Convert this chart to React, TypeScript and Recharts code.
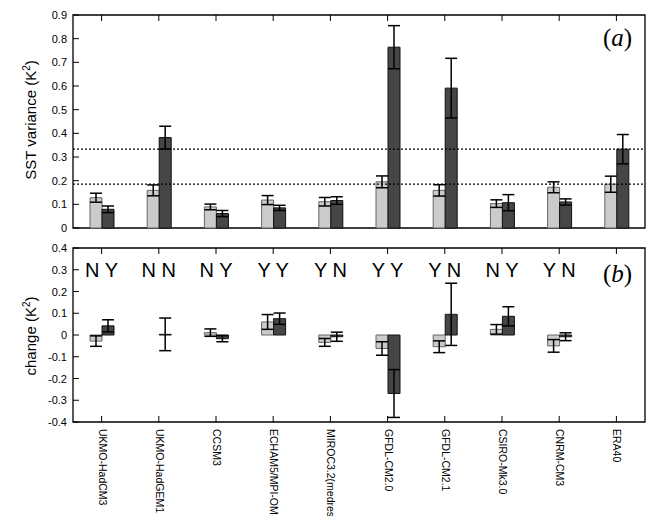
import React from "react";
import {
  Bar,
  BarChart,
  ErrorBar,
  ReferenceArea,
  ReferenceLine,
  XAxis,
  YAxis,
} from "recharts";

const MODELS = [
  "UKMO-HadCM3",
  "UKMO-HadGEM1",
  "CCSM3",
  "ECHAM5/MPI-OM",
  "MIROC3.2(medres)",
  "GFDL-CM2.0",
  "GFDL-CM2.1",
  "CSIRO-Mk3.0",
  "CNRM-CM3",
  "ERA40",
];

// panel (a): SST variance
const VAR_LIGHT = [0.128, 0.159, 0.089, 0.118, 0.111, 0.195, 0.159, 0.103, 0.172, 0.185];
const VAR_LIGHT_ERR = [0.019, 0.023, 0.012, 0.019, 0.018, 0.025, 0.024, 0.016, 0.023, 0.034];
const VAR_DARK = [0.079, 0.382, 0.061, 0.085, 0.116, 0.764, 0.591, 0.107, 0.11, 0.333];
const VAR_DARK_ERR = [0.014, 0.048, 0.013, 0.011, 0.016, 0.091, 0.126, 0.034, 0.013, 0.062];
const REF_LEVELS = [0.333, 0.185];

// panel (b): change
const CHG_LIGHT = [-0.028, 0.0, 0.011, 0.06, -0.034, -0.062, -0.054, 0.026, -0.05, null];
const CHG_LIGHT_ERR = [0.024, 0.032, 0.017, 0.034, 0.018, 0.031, 0.027, 0.022, 0.029, null];
const CHG_DARK = [0.042, 0.003, -0.017, 0.075, -0.008, -0.269, 0.095, 0.086, -0.008, null];
const CHG_DARK_ERR = [0.028, 0.075, 0.014, 0.026, 0.021, 0.11, 0.143, 0.044, 0.018, null];
const SIGNIF = ["N Y", "N N", "N Y", "Y Y", "Y N", "Y Y", "Y N", "N Y", "Y N", ""];

const TICKS_A = [0, 0.1, 0.2, 0.3, 0.4, 0.5, 0.6, 0.7, 0.8, 0.9];
const TICKS_B = [-0.4, -0.3, -0.2, -0.1, 0, 0.1, 0.2, 0.3, 0.4];

const dataA = MODELS.map((m, i) => ({
  model: m,
  light: VAR_LIGHT[i],
  lightErr: VAR_LIGHT_ERR[i],
  dark: VAR_DARK[i],
  darkErr: VAR_DARK_ERR[i],
}));

const dataB = MODELS.map((m, i) => ({
  model: m,
  light: CHG_LIGHT[i],
  lightErr: CHG_LIGHT_ERR[i],
  dark: CHG_DARK[i],
  darkErr: CHG_DARK_ERR[i],
}));

const SANS = "'Liberation Sans', Arial, sans-serif";
const SERIF = "'Liberation Serif', 'DejaVu Serif', serif";
const LIGHT = "#cbcbcb";
const DARK = "#464646";
const TICK = 6;

const fmt = (v: number) => String(Math.round(v * 10) / 10);

// text sits tickMargin (6) left of the axis; tick line goes inward
const LeftTick = (props: any) => {
  const { x, y, payload } = props;
  return (
    <g>
      <line x1={x + 6} x2={x + 6 + TICK} y1={y} y2={y} stroke="#000" />
      <text x={x} y={y} textAnchor="end" dominantBaseline="central" fontSize={11} fontFamily={SANS} fill="#000">
        {fmt(payload.value)}
      </text>
    </g>
  );
};

const RightTick = (props: any) => {
  const { x, y } = props;
  return <line x1={x} x2={x - TICK} y1={y} y2={y} stroke="#000" />;
};

const TopTick = (props: any) => {
  const { x, y } = props;
  return <line x1={x} x2={x} y1={y} y2={y + TICK} stroke="#000" />;
};

const TopTickLetters = (props: any) => {
  const { x, y, index } = props;
  return (
    <g>
      <line x1={x} x2={x} y1={y} y2={y + TICK} stroke="#000" />
      <text x={x} y={y + 29} textAnchor="middle" fontSize={20} fontFamily={SANS} fill="#000">
        {SIGNIF[index]}
      </text>
    </g>
  );
};

const BottomTickLabel = (props: any) => {
  const { x, y, payload } = props;
  return (
    <g>
      <line x1={x} x2={x} y1={y} y2={y - TICK} stroke="#000" />
      <text
        x={0}
        y={0}
        transform={`translate(${x + 1}, ${y + 7}) rotate(90)`}
        textAnchor="start"
        dominantBaseline="central"
        fontSize={10.5}
        fontFamily={SANS}
        fill="#000"
      >
        {payload.value}
      </text>
    </g>
  );
};

const absText = (style: React.CSSProperties, children: React.ReactNode) => (
  <div style={{ position: "absolute", whiteSpace: "nowrap", lineHeight: 1, ...style }}>{children}</div>
);

export default function App() {
  return (
    <div
      style={{
        position: "absolute",
        left: 0,
        top: 0,
        width: 650,
        height: 516,
        background: "#fff",
        overflow: "hidden",
      }}
    >
      <div style={{ position: "absolute", left: 0, top: 0 }}>
        <BarChart
          width={650}
          height={236}
          data={dataA}
          margin={{ top: 14, right: 4, bottom: 7, left: 0 }}
          barSize={12}
          barGap={0}
        >
          <XAxis xAxisId="b" dataKey="model" height={1} tick={false} tickLine={false} axisLine={false} />
          <XAxis
            xAxisId="t"
            dataKey="model"
            orientation="top"
            height={1}
            interval={0}
            tickSize={0}
            tickMargin={0}
            tickLine={false}
            axisLine={false}
            tick={<TopTick />}
          />
          <YAxis
            yAxisId="l"
            width={73}
            domain={[0, 0.9]}
            ticks={TICKS_A}
            interval={0}
            tickSize={0}
            tickMargin={6}
            tickLine={false}
            axisLine={false}
            tick={<LeftTick />}
          />
          <YAxis
            yAxisId="r"
            orientation="right"
            width={1}
            domain={[0, 0.9]}
            ticks={TICKS_A}
            interval={0}
            tickSize={0}
            tickMargin={0}
            tickLine={false}
            axisLine={false}
            tick={<RightTick />}
          />
          {REF_LEVELS.map((v) => (
            <ReferenceLine key={v} xAxisId="b" yAxisId="l" y={v} stroke="#000" strokeDasharray="2 2" strokeWidth={1.2} />
          ))}
          <Bar xAxisId="b" yAxisId="l" dataKey="light" fill={LIGHT} stroke="#666" isAnimationActive={false}>
            <ErrorBar dataKey="lightErr" width={6} stroke="#000" strokeWidth={1.5} />
          </Bar>
          <Bar xAxisId="b" yAxisId="l" dataKey="dark" fill={DARK} stroke="#111" isAnimationActive={false}>
            <ErrorBar dataKey="darkErr" width={6} stroke="#000" strokeWidth={1.5} />
          </Bar>
          <ReferenceArea
            xAxisId="b"
            yAxisId="l"
            y1={0}
            y2={0.9}
            fill="none"
            fillOpacity={0}
            stroke="#000"
            strokeWidth={1.3}
            ifOverflow="visible"
          />
        </BarChart>
      </div>

      <div style={{ position: "absolute", left: 0, top: 236 }}>
        <BarChart
          width={650}
          height={280}
          data={dataB}
          margin={{ top: 11, right: 4, bottom: 0, left: 0 }}
          barSize={12}
          barGap={0}
        >
          <XAxis
            xAxisId="b"
            dataKey="model"
            height={94}
            interval={0}
            tickSize={0}
            tickMargin={0}
            tickLine={false}
            axisLine={false}
            tick={<BottomTickLabel />}
          />
          <XAxis
            xAxisId="t"
            dataKey="model"
            orientation="top"
            height={1}
            interval={0}
            tickSize={0}
            tickMargin={0}
            tickLine={false}
            axisLine={false}
            tick={<TopTickLetters />}
          />
          <YAxis
            yAxisId="l"
            width={73}
            domain={[-0.4, 0.4]}
            ticks={TICKS_B}
            interval={0}
            tickSize={0}
            tickMargin={6}
            tickLine={false}
            axisLine={false}
            tick={<LeftTick />}
          />
          <YAxis
            yAxisId="r"
            orientation="right"
            width={1}
            domain={[-0.4, 0.4]}
            ticks={TICKS_B}
            interval={0}
            tickSize={0}
            tickMargin={0}
            tickLine={false}
            axisLine={false}
            tick={<RightTick />}
          />
          <Bar xAxisId="b" yAxisId="l" dataKey="light" fill={LIGHT} stroke="#666" isAnimationActive={false}>
            <ErrorBar dataKey="lightErr" width={6} stroke="#000" strokeWidth={1.5} />
          </Bar>
          <Bar xAxisId="b" yAxisId="l" dataKey="dark" fill={DARK} stroke="#111" isAnimationActive={false}>
            <ErrorBar dataKey="darkErr" width={6} stroke="#000" strokeWidth={1.5} />
          </Bar>
          <ReferenceArea
            xAxisId="b"
            yAxisId="l"
            y1={-0.4}
            y2={0.4}
            fill="none"
            fillOpacity={0}
            stroke="#000"
            strokeWidth={1.3}
            ifOverflow="visible"
          />
        </BarChart>
      </div>

      {absText(
        {
          left: 30,
          top: 120,
          transform: "translate(-50%, -50%) rotate(-90deg)",
          fontSize: 15,
          fontFamily: SANS,
        },
        <span>
          SST variance (K<sup style={{ fontSize: 10 }}>2</sup>)
        </span>
      )}
      {absText(
        {
          left: 30,
          top: 336,
          transform: "translate(-50%, -50%) rotate(-90deg)",
          fontSize: 15,
          fontFamily: SANS,
        },
        <span>
          change (K<sup style={{ fontSize: 10 }}>2</sup>)
        </span>
      )}
      {absText(
        { left: 603, top: 25, fontSize: 25, fontFamily: SERIF },
        <span>
          (<i>a</i>)
        </span>
      )}
      {absText(
        { left: 603, top: 261, fontSize: 25, fontFamily: SERIF },
        <span>
          (<i>b</i>)
        </span>
      )}
    </div>
  );
}
